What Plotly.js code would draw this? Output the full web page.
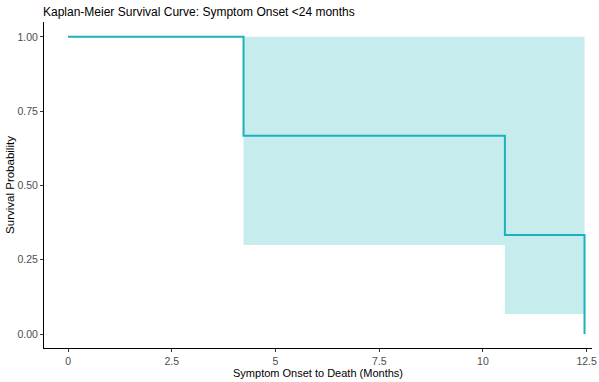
<!DOCTYPE html>
<html>
<head>
<meta charset="utf-8">
<script src="https://cdn.plot.ly/plotly-3.0.1.min.js"></script>
<style>html,body{margin:0;padding:0;background:#fff;}#chart{width:599px;height:382px;}</style>
</head>
<body>
<div id="chart"></div>
<script>
// Kaplan-Meier estimates
const times = [0, 4.23, 10.53, 12.45];
const survival = [1.0, 0.667, 0.333, 0.0];
// Confidence band (from first event onward)
const ciTimes = [4.23, 10.53, 12.45];
const ciLower = [0.30, 0.067, 0.067];
const ciUpper = [1.0, 1.0, 1.0];
const xTicks = [0, 2.5, 5, 7.5, 10, 12.5];
const xTickLabels = ["0", "2.5", "5", "7.5", "10", "12.5"];
const yTicks = [0, 0.25, 0.5, 0.75, 1.0];
const yTickLabels = ["0.00", "0.25", "0.50", "0.75", "1.00"];
const chartTitle = "Kaplan-Meier Survival Curve: Symptom Onset &lt;24 months";

const lineColor = "#1AB2BD";
const bandColor = "rgba(26,178,189,0.25)";

const traces = [
  {x: ciTimes, y: ciLower, type: "scatter", mode: "lines", line: {shape: "hv", width: 0, color: bandColor}, hoverinfo: "skip", showlegend: false},
  {x: ciTimes, y: ciUpper, type: "scatter", mode: "lines", line: {shape: "hv", width: 0, color: bandColor}, fill: "tonexty", fillcolor: bandColor, hoverinfo: "skip", showlegend: false},
  {x: times, y: survival, type: "scatter", mode: "lines", line: {shape: "hv", width: 2, color: lineColor}, showlegend: false}
];

const layout = {
  width: 599, height: 382,
  margin: {l: 44, r: 7, t: 22, b: 34},
  paper_bgcolor: "#fff", plot_bgcolor: "#fff",
  font: {family: "Liberation Sans, Arial, sans-serif", color: "#000"},
  annotations: [{
    text: chartTitle, xref: "paper", yref: "paper", x: -0.004, y: 1.0, yshift: 10,
    xanchor: "left", yanchor: "middle", showarrow: false, borderpad: 0,
    font: {size: 12, color: "#000"}
  }],
  xaxis: {
    range: [-0.58, 12.63], tickvals: xTicks, ticktext: xTickLabels,
    showgrid: false, zeroline: false, showline: true, linecolor: "#000", linewidth: 1,
    ticks: "outside", ticklen: 3, tickcolor: "#333", tickfont: {size: 10.5, color: "#4d4d4d"},
    title: {text: "Symptom Onset to Death (Months)", font: {size: 11, color: "#000"}, standoff: 2}
  },
  yaxis: {
    range: [-0.047, 1.05], tickvals: yTicks, ticktext: yTickLabels,
    showgrid: false, zeroline: false, showline: true, linecolor: "#000", linewidth: 1,
    ticks: "outside", ticklen: 3, tickcolor: "#333", tickfont: {size: 10.5, color: "#4d4d4d"},
    title: {text: "Survival Probability", font: {size: 11.5, color: "#000"}, standoff: 0}
  }
};

Plotly.newPlot("chart", traces, layout, {displayModeBar: false, staticPlot: true});
</script>
</body>
</html>
